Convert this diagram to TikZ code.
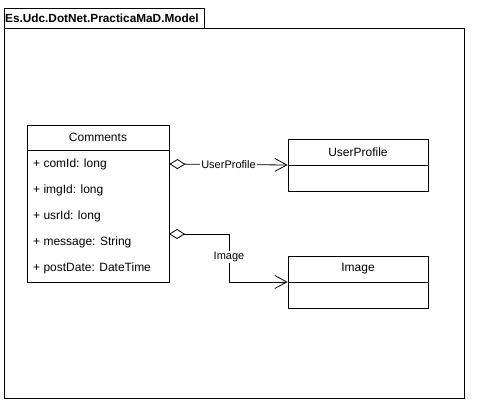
\documentclass[tikz,border=0pt]{standalone}
\usepackage{fontspec}
\setmainfont{Liberation Sans}
\usetikzlibrary{arrows.meta,positioning}

\tikzset{
  classbox/.style={draw,line width=0.8pt,minimum width=140pt,inner sep=0pt},
  classname/.style={font=\fontsize{12}{14}\selectfont,anchor=center,inner sep=0pt},
  attr/.style={font=\fontsize{12}{14}\selectfont,anchor=west,inner sep=0pt},
  assoc/.style={line width=0.8pt,{Diamond[open,length=16pt,width=10pt,line width=0.8pt]}-{Straight Barb[length=12pt,width=13pt,line width=0.8pt]}},
  lbl/.style={fill=white,font=\fontsize{11}{13}\selectfont,inner sep=1pt}
}

\begin{document}
\begin{tikzpicture}[x=1pt,y=-1pt]
\useasboundingbox (0,0) rectangle (487,415);

% package frame
\draw[line width=1pt] (4,28) rectangle (464,398);
\draw[line width=1pt] (4,8) rectangle (204,28);
\node[font=\bfseries\fontsize{11.8}{14}\selectfont,anchor=west,inner sep=0pt] (pkg) at (5,18) {Es.Udc.DotNet.PracticaMaD.Model};

% Comments
\node[classbox,minimum width=142pt,minimum height=157pt] (comments) at (98,203.5) {};
\node[classname] (commentsname) at (98,137.5) {Comments};
\draw[line width=0.8pt] (comments.west |- 0,150) -- (comments.east |- 0,150);
\node[attr] (comid) at (33,164) {+ comId: long};
\node[attr] (imgid) at (33,190) {+ imgId: long};
\node[attr] (usrid) at (33,216) {+ usrId: long};
\node[attr] (message) at (33,242) {+ message: String};
\node[attr] (postdate) at (33,268) {+ postDate: DateTime};

% UserProfile
\node[classbox,minimum height=52pt] (userprofile) at (358,165) {};
\node[classname] (userprofilename) at (358,152) {UserProfile};
\draw[line width=0.8pt] (userprofile.west) -- (userprofile.east);

% Image
\node[classbox,minimum height=52pt] (image) at (358,282) {};
\node[classname] (imagename) at (358,269) {Image};
\draw[line width=0.8pt] (image.west) -- (image.east);

% associations
\coordinate (imgstart) at (169,234);
\coordinate (imgbend) at (229,234);
\draw[assoc] (comments.east |- comid) -- node[lbl] {UserProfile} (userprofile.west);
\draw[assoc] (imgstart) -- (imgbend) |- node[lbl,pos=0.24] {Image} (image.west);
\end{tikzpicture}
\end{document}
